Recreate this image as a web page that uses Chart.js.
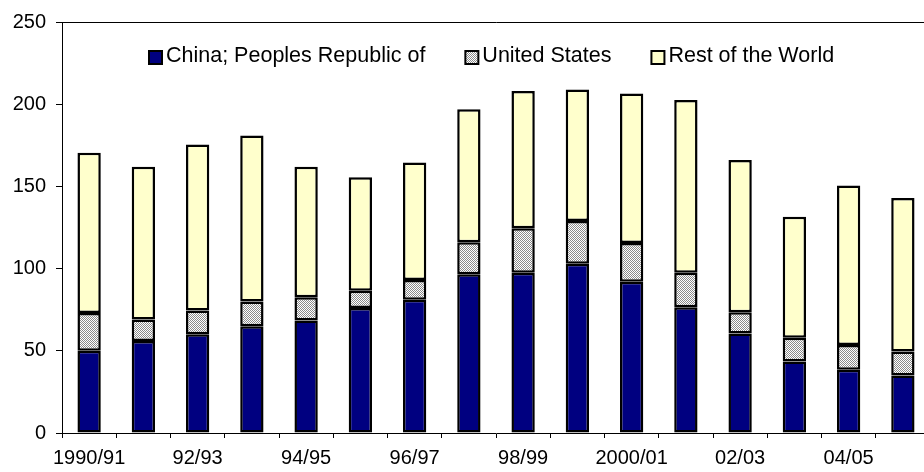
<!DOCTYPE html>
<html>
<head>
<meta charset="utf-8">
<script src="https://cdn.jsdelivr.net/npm/chart.js@4/dist/chart.umd.min.js"></script>
<style>
  html, body { margin: 0; padding: 0; background: #fff; overflow: hidden; }
  #wrap { width: 924px; height: 472px; overflow: hidden; }
  canvas { display: block; }
</style>
</head>
<body>
<div id="wrap"><canvas id="chart" width="940" height="472"></canvas></div>
<script>
// Marketing years
const categories = ["1990/91", "91/92", "92/93", "93/94", "94/95", "95/96", "96/97", "97/98",
                    "98/99", "99/2000", "2000/01", "01/02", "02/03", "03/04", "04/05", "05/06"];

// Series values
const china = [50, 56, 60, 65, 68.5, 76, 81, 96.5, 97.5, 103, 92, 76.5, 60.5, 43.5, 38.5, 35];
const unitedStates = [23, 13, 14.5, 15, 14, 10.5, 12, 19.5, 27, 26, 23.5, 21, 13, 14.5, 15, 14.5];
const restOfWorld = [97.5, 93, 101, 101, 79.5, 69, 71.5, 81, 83.5, 80, 91, 105, 92.5, 73.5, 97, 93.5];

// Value axis ticks
const yTicks = [0, 50, 100, 150, 200, 250];

const seriesNames = ["China; Peoples Republic of", "United States", "Rest of the World"];

// Fine gray dither fill
function ditherPattern() {
  const c = document.createElement('canvas');
  c.width = 2; c.height = 2;
  const g = c.getContext('2d');
  g.fillStyle = '#ffffff';
  g.fillRect(0, 0, 2, 2);
  g.fillStyle = '#8a8a8a';
  g.fillRect(0, 0, 1, 1);
  g.fillRect(1, 1, 1, 1);
  return g.createPattern(c, 'repeat');
}

const FONT = "'Liberation Sans', Arial, sans-serif";

// Plot-area frame (top and right edges)
const frame = {
  id: 'frame',
  afterDraw(chart) {
    const { ctx, chartArea: a } = chart;
    ctx.save();
    ctx.strokeStyle = '#000';
    ctx.lineWidth = 1;
    ctx.beginPath();
    ctx.moveTo(a.left, a.top + 0.5);
    ctx.lineTo(a.right + 0.5, a.top + 0.5);
    ctx.lineTo(a.right + 0.5, a.bottom);
    ctx.stroke();
    ctx.restore();
  }
};

// Legend drawn inside the plot area
const insideLegend = {
  id: 'insideLegend',
  afterDraw(chart) {
    const { ctx, chartArea: a } = chart;
    const box = 15, textGap = 3, itemGap = 39;
    ctx.save();
    ctx.font = '21.5px ' + FONT;
    ctx.textBaseline = 'middle';
    ctx.textAlign = 'left';
    let x = a.left + 86;
    const boxTop = a.top + 28;
    chart.data.datasets.forEach(ds => {
      ctx.fillStyle = '#000';
      ctx.fillRect(x, boxTop, box, box);
      ctx.fillStyle = ds.backgroundColor;
      ctx.fillRect(x + 2, boxTop + 2, box - 4, box - 4);
      ctx.fillStyle = '#000';
      const tx = x + box + textGap;
      ctx.fillText(ds.label, tx, boxTop + box / 2 - 1);
      x = tx + ctx.measureText(ds.label).width + itemGap;
    });
    ctx.restore();
  }
};

const barStyle = { borderColor: '#000', borderWidth: 2.5, borderSkipped: false, inflateAmount: 0 };

new Chart(document.getElementById('chart'), {
  type: 'bar',
  data: {
    labels: categories,
    datasets: [
      Object.assign({ label: seriesNames[0], data: china, backgroundColor: '#000080' }, barStyle),
      Object.assign({ label: seriesNames[1], data: unitedStates, backgroundColor: ditherPattern() }, barStyle),
      Object.assign({ label: seriesNames[2], data: restOfWorld, backgroundColor: '#ffffcc' }, barStyle)
    ]
  },
  options: {
    responsive: false,
    animation: false,
    devicePixelRatio: 1,
    layout: { padding: { top: 16, right: 10, left: 0, bottom: 0 } },
    datasets: { bar: { categoryPercentage: 1, barPercentage: 0.43 } },
    plugins: {
      legend: { display: false },
      tooltip: { enabled: false }
    },
    scales: {
      x: {
        stacked: true,
        offset: true,
        grid: { offset: true, drawOnChartArea: false, drawTicks: true, tickLength: 5, color: '#000' },
        border: { display: true, color: '#000', width: 1 },
        ticks: {
          autoSkip: false,
          maxRotation: 0,
          padding: 8,
          color: '#000',
          font: { family: FONT, size: 20 },
          callback: (v, i) => (i % 2 === 0 ? categories[i] : '')
        },
        afterFit: s => { s.height = 39; }
      },
      y: {
        stacked: true,
        min: yTicks[0],
        max: yTicks[yTicks.length - 1],
        afterBuildTicks: s => { s.ticks = yTicks.map(v => ({ value: v })); },
        grid: { drawOnChartArea: false, drawTicks: true, tickLength: 6, color: '#000' },
        border: { display: true, color: '#000', width: 1 },
        ticks: {
          padding: 10,
          color: '#000',
          font: { family: FONT, size: 20 }
        },
        afterFit: s => { s.width = 62; }
      }
    }
  },
  plugins: [frame, insideLegend]
});
</script>
</body>
</html>
